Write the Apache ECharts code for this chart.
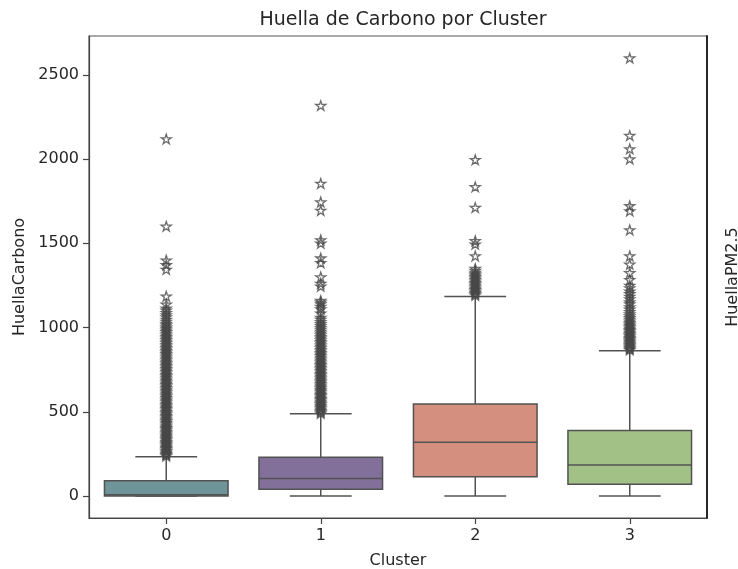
<!DOCTYPE html>
<html>
<head>
<meta charset="utf-8">
<script src="https://cdn.jsdelivr.net/npm/echarts@6/dist/echarts.min.js"></script>
<style>
  html, body { margin: 0; padding: 0; background: #ffffff; }
  #chart { width: 738px; height: 569px; }
</style>
</head>
<body>
<div id="chart"></div>
<script>
// Clusters on the x axis
const clusters = ['0', '1', '2', '3'];

// Box statistics per cluster (HuellaCarbono)
const whiskerLow  = [0, 0, 0, 0];
const q1          = [0, 40, 115, 71];
const median      = [8, 105, 320, 185];
const q3          = [91, 230, 546, 389];
const whiskerHigh = [234, 488, 1185, 863];

// Outliers beyond the whiskers, per cluster
const outliers0 = [238, 246, 251, 259, 266, 272, 281, 287, 294, 302, 309, 315, 322, 331, 338, 344, 353, 360, 367, 375,
  382, 390, 398, 405, 413, 421, 430, 437, 445, 452, 461, 469, 476, 485, 493, 501, 510, 518, 526, 533, 542, 550, 559,
  567, 575, 584, 592, 600, 609, 617, 626, 634, 643, 651, 660, 668, 677, 686, 694, 703, 712, 720, 729, 738, 746, 755,
  764, 773, 782, 790, 799, 808, 817, 826, 835, 844, 853, 862, 871, 880, 889, 898, 908, 917, 927, 936, 946, 955, 965,
  975, 984, 994, 1003, 1015, 1024, 1036, 1048, 1062, 1075, 1088, 1102, 1115, 1138, 1186, 1345, 1372, 1400, 1601, 2119];
const outliers1 = [492, 499, 507, 514, 522, 531, 538, 546, 553, 561, 570, 577, 585, 594, 601, 609, 618, 626, 633, 641,
  650, 658, 667, 675, 683, 692, 700, 709, 718, 726, 735, 744, 752, 761, 770, 779, 787, 796, 805, 814, 823, 832, 841,
  850, 860, 869, 878, 888, 897, 907, 916, 926, 936, 946, 956, 966, 977, 988, 999, 1010, 1022, 1035, 1048, 1060, 1085,
  1110, 1125, 1140, 1150, 1160, 1245, 1262, 1300, 1385, 1412, 1500, 1520, 1695, 1745, 1855, 2317];
const outliers2 = [1192, 1200, 1208, 1216, 1224, 1232, 1241, 1250, 1258, 1266, 1275, 1284, 1292, 1301, 1310, 1318,
  1327, 1338, 1350, 1425, 1495, 1515, 1712, 1835, 1996];
const outliers3 = [868, 875, 882, 889, 896, 903, 911, 918, 925, 933, 940, 948, 955, 963, 971, 979, 987, 995, 1003,
  1012, 1020, 1029, 1038, 1048, 1058, 1068, 1080, 1094, 1108, 1122, 1140, 1152, 1170, 1185, 1200, 1215, 1235, 1250,
  1284, 1325, 1375, 1425, 1579, 1692, 1722, 2000, 2060, 2139, 2599];
const outliersByCluster = [outliers0, outliers1, outliers2, outliers3];

// Y axis ticks
const yTicks = [0, 500, 1000, 1500, 2000, 2500];

const boxColors = ['#6f949a', '#82709b', '#d48f7e', '#a2c186'];
const lineColor = '#525252';
const FONT = 'DejaVu Sans';

const boxData = clusters.map((c, i) => [i, whiskerLow[i], q1[i], median[i], q3[i], whiskerHigh[i]]);
const flierData = [];
outliersByCluster.forEach((arr, i) => arr.forEach(v => flierData.push([i, v])));

const starPath = 'path://M0,-10L2.245,-3.09L9.511,-3.09L3.633,1.18L5.878,8.09L0,3.82L-5.878,8.09L-3.633,1.18L-9.511,-3.09L-2.245,-3.09Z';

function renderBox(params, api) {
  const idx = api.value(0);
  const lo = api.value(1), a = api.value(2), m = api.value(3), b = api.value(4), hi = api.value(5);
  const band = api.size([1, 0])[0];
  const boxW = band * 0.8;
  const capW = boxW / 2;
  const pLo = api.coord([idx, lo]);
  const pA = api.coord([idx, a]);
  const pM = api.coord([idx, m]);
  const pB = api.coord([idx, b]);
  const pHi = api.coord([idx, hi]);
  const cx = pA[0];
  const ls = { stroke: lineColor, lineWidth: 1.5 };
  return {
    type: 'group',
    children: [
      { type: 'line', shape: { x1: cx, y1: pHi[1], x2: cx, y2: pB[1] }, style: ls },
      { type: 'line', shape: { x1: cx, y1: pLo[1], x2: cx, y2: pA[1] }, style: ls },
      { type: 'line', shape: { x1: cx - capW / 2, y1: pHi[1], x2: cx + capW / 2, y2: pHi[1] }, style: ls },
      { type: 'line', shape: { x1: cx - capW / 2, y1: pLo[1], x2: cx + capW / 2, y2: pLo[1] }, style: ls },
      { type: 'rect', shape: { x: cx - boxW / 2, y: pB[1], width: boxW, height: pA[1] - pB[1] },
        style: { fill: boxColors[params.dataIndex], stroke: lineColor, lineWidth: 1.5 } },
      { type: 'line', shape: { x1: cx - boxW / 2, y1: pM[1], x2: cx + boxW / 2, y2: pM[1] }, style: ls }
    ]
  };
}

const chart = echarts.init(document.getElementById('chart'), null, { renderer: 'canvas' });
chart.setOption({
  animation: false,
  backgroundColor: '#ffffff',
  title: {
    text: 'Huella de Carbono por Cluster',
    left: 398,
    top: 6,
    textAlign: 'center',
    textStyle: { fontFamily: FONT, fontSize: 19, fontWeight: 'normal', color: '#262626' }
  },
  grid: {
    left: 89, right: 31, top: 36, bottom: 51,
    outerBoundsMode: 'none',
    containLabel: false,
    show: true, borderColor: '#555555', borderWidth: 1.2, backgroundColor: 'transparent'
  },
  xAxis: {
    type: 'category',
    data: clusters,
    boundaryGap: true,
    name: 'Cluster',
    nameLocation: 'middle',
    nameGap: 35,
    nameTextStyle: { fontFamily: FONT, fontSize: 16, color: '#262626' },
    axisLine: { show: true, onZero: false, lineStyle: { color: '#444444', width: 1.2 } },
    axisTick: { show: true, alignWithLabel: true, length: 6, lineStyle: { color: '#444444', width: 1.2 } },
    axisLabel: { fontFamily: FONT, fontSize: 16, color: '#262626', margin: 10 },
    splitLine: { show: false }
  },
  yAxis: [
    {
      type: 'value',
      min: -130,
      max: 2730,
      name: 'HuellaCarbono',
      nameLocation: 'middle',
      nameGap: 59,
      nameTextStyle: { fontFamily: FONT, fontSize: 16, color: '#262626' },
      axisLine: { show: true, onZero: false, lineStyle: { color: '#444444', width: 1.2 } },
      axisTick: { show: true, length: 6, customValues: yTicks, lineStyle: { color: '#444444', width: 1.2 } },
      axisLabel: {
        fontFamily: FONT, fontSize: 16, color: '#262626', margin: 10, customValues: yTicks,
        formatter: v => String(v)
      },
      splitLine: { show: false }
    },
    {
      type: 'value',
      position: 'right',
      min: 0,
      max: 1,
      name: 'HuellaPM2.5',
      nameLocation: 'middle',
      nameGap: 18,
      nameRotate: 90,
      nameTextStyle: { fontFamily: FONT, fontSize: 16, color: '#262626' },
      axisLine: { show: true, onZero: false, lineStyle: { color: '#1a1a1a', width: 1.8 } },
      axisTick: { show: false },
      axisLabel: { show: false },
      splitLine: { show: false }
    }
  ],
  series: [
    {
      type: 'custom',
      name: 'HuellaCarbono',
      renderItem: renderBox,
      data: boxData,
      encode: { x: 0, y: [1, 2, 3, 4, 5] },
      z: 2
    },
    {
      type: 'scatter',
      name: 'outliers',
      data: flierData,
      symbol: starPath,
      symbolSize: [10, 9.5],
      itemStyle: { color: 'rgba(255,255,255,0)', borderColor: '#474747', borderWidth: 1.3 },
      z: 3
    }
  ]
});
</script>
</body>
</html>
